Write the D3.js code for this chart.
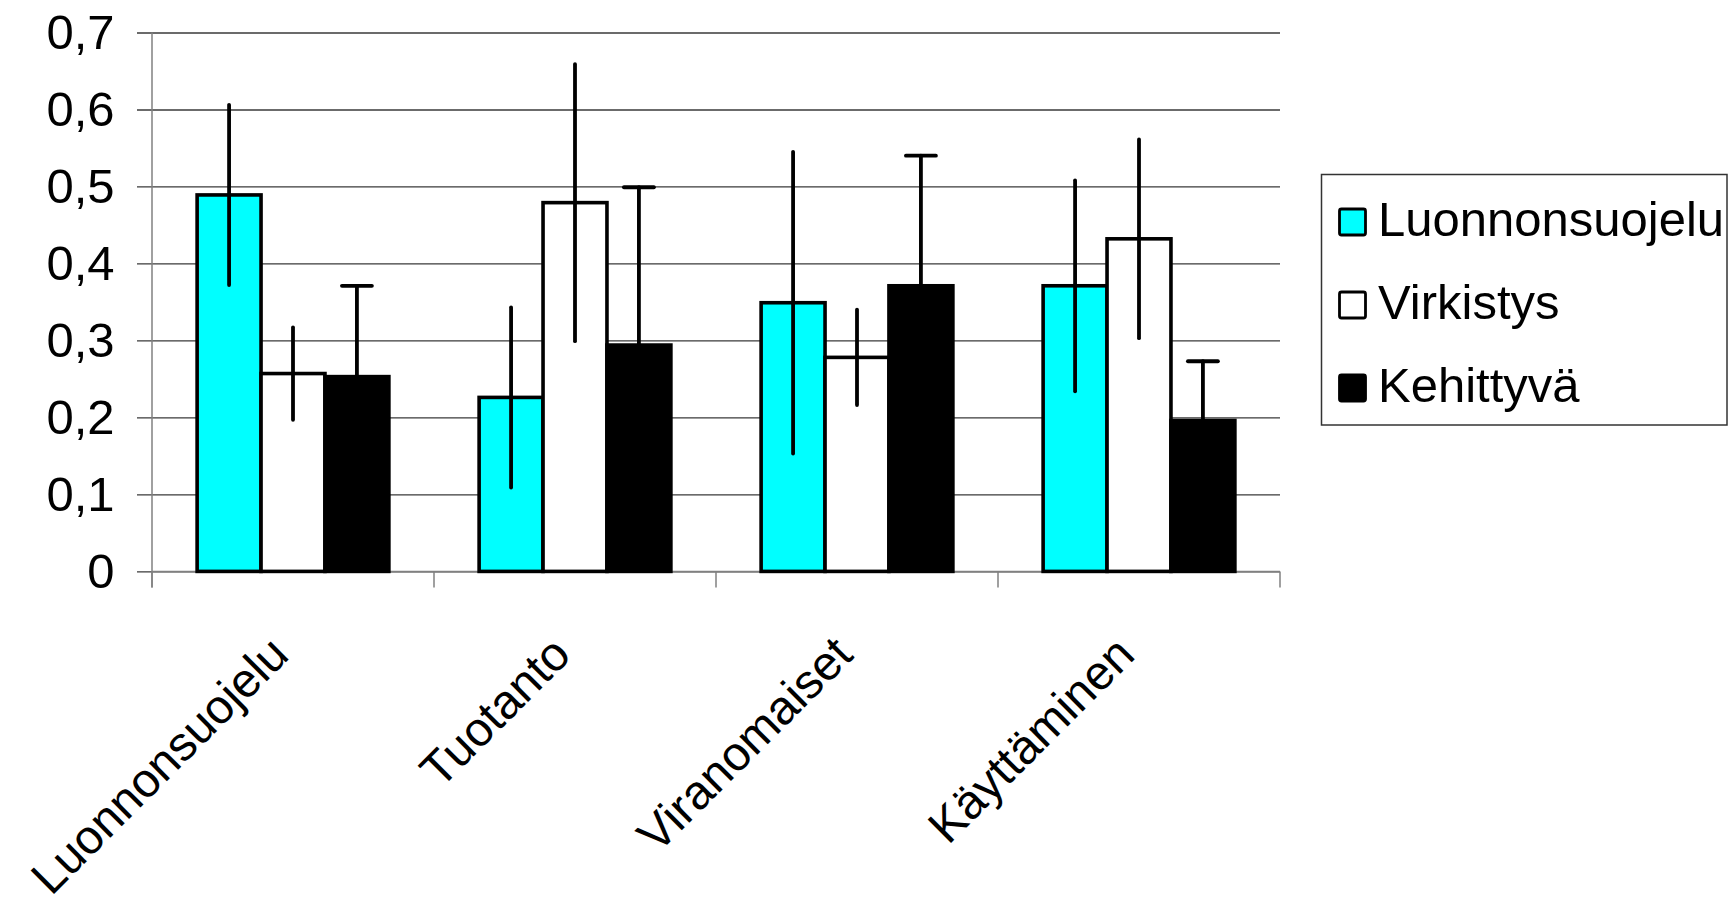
<!DOCTYPE html>
<html>
<head>
<meta charset="utf-8">
<script src="https://cdn.jsdelivr.net/npm/d3@7"></script>
<style>
  html, body { margin: 0; padding: 0; background: #fff; }
  svg { display: block; }
  text { font-family: "Liberation Sans", Arial, sans-serif; fill: #000; }
</style>
</head>
<body>
<svg id="chart" width="1730" height="909"></svg>
<script>
// ---- data ----
const categories = ["Luonnonsuojelu", "Tuotanto", "Viranomaiset", "Käyttäminen"];
const seriesNames = ["Luonnonsuojelu", "Virkistys", "Kehittyvä"];
const luonnonsuojeluValues = [0.489, 0.226, 0.349, 0.371];
const luonnonsuojeluErrors = [0.117, 0.117, 0.196, 0.137];
const virkistysValues = [0.257, 0.479, 0.278, 0.432];
const virkistysErrors = [0.060, 0.180, 0.062, 0.129];
const kehittyvaValues = [0.253, 0.294, 0.371, 0.196];
const kehittyvaErrors = [0.118, 0.205, 0.169, 0.077];
const yTickValues = [0, 0.1, 0.2, 0.3, 0.4, 0.5, 0.6, 0.7];
const yTickLabels = ["0", "0,1", "0,2", "0,3", "0,4", "0,5", "0,6", "0,7"];

// ---- styles ----
const seriesColors = ["#00FFFF", "#FFFFFF", "#000000"];
const seriesCaps = [false, false, true];
const FONT = 49;
const XFONT = 48;

const series = seriesNames.map((name, i) => ({
  name,
  values: [luonnonsuojeluValues, virkistysValues, kehittyvaValues][i],
  errors: [luonnonsuojeluErrors, virkistysErrors, kehittyvaErrors][i],
  color: seriesColors[i],
  cap: seriesCaps[i]
}));

const svg = d3.select("#chart");
const plotLeft = 152, plotRight = 1280, plotTop = 32.5, plotBottom = 571.4;

const y = d3.scaleLinear().domain([0, 0.7]).range([plotBottom, plotTop]);
const x0 = d3.scaleBand().domain(categories).range([plotLeft, plotRight])
  .paddingInner(0.32).paddingOuter(0.16);
const x1 = d3.scaleBand().domain(seriesNames).range([0, x0.bandwidth()]).padding(0);

// gridlines + y ticks
const yAxis = d3.axisLeft(y).tickValues(yTickValues)
  .tickSize(-(plotRight - plotLeft)).tickSizeOuter(0)
  .tickFormat((d, i) => yTickLabels[i]);
const gy = svg.append("g").attr("transform", `translate(${plotLeft},0)`).call(yAxis);
gy.select(".domain").remove();
gy.selectAll(".tick line").attr("stroke", "#3a3a3a").attr("stroke-width", 1.3)
  .attr("x1", -15);
gy.selectAll(".tick text").attr("x", -37.5).attr("dy", "0.32em")
  .style("font-size", FONT + "px").style("font-family", '"Liberation Sans", Arial, sans-serif');

// vertical axis line
svg.append("line").attr("x1", plotLeft).attr("x2", plotLeft).attr("y1", y(0.7)).attr("y2", plotBottom + 16)
  .attr("stroke", "#808080").attr("stroke-width", 1.5);

// horizontal axis + category ticks
svg.append("line").attr("x1", plotLeft).attr("x2", plotRight).attr("y1", plotBottom).attr("y2", plotBottom)
  .attr("stroke", "#808080").attr("stroke-width", 1.5);
const gapHalf = (x0.step() - x0.bandwidth()) / 2;
const tickXs = categories.map(c => x0(c) - gapHalf).concat([x0(categories[categories.length - 1]) + x0.bandwidth() + gapHalf]);
svg.append("g").selectAll("line").data(tickXs).join("line")
  .attr("x1", d => d).attr("x2", d => d).attr("y1", plotBottom).attr("y2", plotBottom + 16)
  .attr("stroke", "#808080").attr("stroke-width", 1.5);

// bars
const groups = svg.append("g").selectAll("g").data(categories).join("g")
  .attr("transform", c => `translate(${x0(c)},0)`);
series.forEach(s => {
  groups.append("rect")
    .attr("x", (c, i) => x1(s.name))
    .attr("y", (c, i) => y(s.values[i]))
    .attr("width", x1.bandwidth())
    .attr("height", (c, i) => y(0) - y(s.values[i]))
    .attr("fill", s.color)
    .attr("stroke", "#000").attr("stroke-width", 3.6);
});

// error bars
const capW = 30;
series.forEach(s => {
  const eg = svg.append("g");
  categories.forEach((c, i) => {
    const cx = x0(c) + x1(s.name) + x1.bandwidth() / 2;
    const v = s.values[i], e = s.errors[i];
    eg.append("line").attr("x1", cx).attr("x2", cx)
      .attr("y1", y(v + e)).attr("y2", y(v - e))
      .attr("stroke", "#000").attr("stroke-width", 3.8).attr("stroke-linecap", "round");
    if (s.cap) {
      [v + e, v - e].forEach(t => {
        eg.append("line").attr("x1", cx - capW / 2).attr("x2", cx + capW / 2)
          .attr("y1", y(t)).attr("y2", y(t))
          .attr("stroke", "#000").attr("stroke-width", 3.8).attr("stroke-linecap", "round");
      });
    }
  });
});

// category labels (rotated)
svg.append("g").selectAll("text").data(categories).join("text")
  .attr("transform", c => `translate(${x0(c) + x0.bandwidth() / 2 - 2},657) rotate(-45)`)
  .attr("text-anchor", "end")
  .style("font-size", XFONT + "px")
  .text(c => c);

// legend
const lg = svg.append("g");
lg.append("rect").attr("x", 1321.5).attr("y", 174.5).attr("width", 405.5).attr("height", 250.5)
  .attr("fill", "#fff").attr("stroke", "#333").attr("stroke-width", 1.5);
const legendRow = d3.scalePoint().domain(seriesNames).range([222, 388]);
series.forEach(s => {
  const cy = legendRow(s.name);
  lg.append("rect").attr("x", 1339.5).attr("y", cy - 13).attr("width", 26).attr("height", 26)
    .attr("rx", 2).attr("fill", s.color).attr("stroke", "#000").attr("stroke-width", 2.8);
  lg.append("text").attr("x", 1378).attr("y", cy + 14)
    .style("font-size", FONT + "px").text(s.name);
});
</script>
</body>
</html>
